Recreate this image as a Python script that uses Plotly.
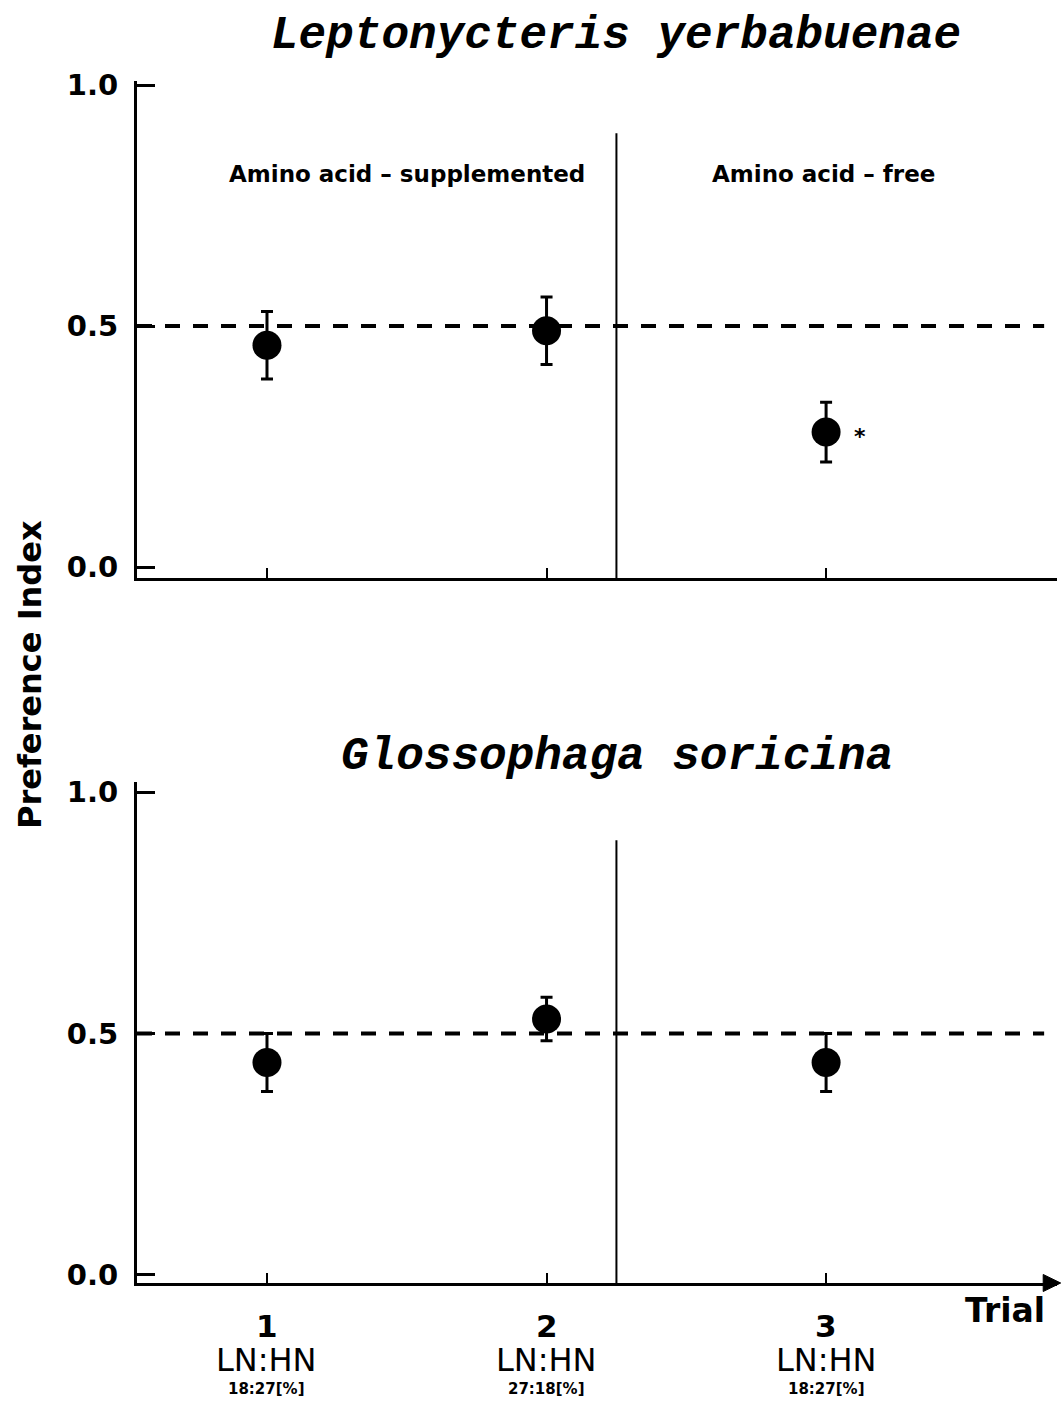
import plotly.graph_objects as go

# ---- data ----
trials = [1, 2, 3]
ly_mean = [0.46, 0.49, 0.28]   # Leptonycteris yerbabuenae
ly_err = [0.07, 0.07, 0.062]
gs_mean = [0.44, 0.53, 0.44]   # Glossophaga soricina
gs_err = [0.06, 0.045, 0.06]
tick_num = ["1", "2", "3"]
tick_ratio = ["18:27[%]", "27:18[%]", "18:27[%]"]
y_ticks = [0.0, 0.5, 1.0]
y_ticktext = ["0.0", "0.5", "1.0"]
species = ["Leptonycteris yerbabuenae", "Glossophaga soricina"]
sections = ["Amino acid \u2013 supplemented", "Amino acid \u2013 free"]
section_x = [1.5, 2.99]
divider_x = 2.25

W, H = 1061, 1405
BOLD = "DejaVu Sans"
TITLE_FONT = dict(family="Liberation Mono", size=46, color="black",
                  style="italic", weight="bold")

fig = go.Figure()

def add_series(means, errs, xa, ya):
    fig.add_trace(go.Scatter(
        x=trials, y=means, mode="markers", xaxis=xa, yaxis=ya,
        marker=dict(color="black", size=29, symbol="circle"),
        error_y=dict(type="data", array=errs, visible=True, color="black",
                     thickness=3, width=6),
        showlegend=False, hoverinfo="skip"))

add_series(ly_mean, ly_err, "x", "y")
add_series(gs_mean, gs_err, "x2", "y2")

xrange = [0.535, 3.826]
top_range = [-0.0228, 1.0083]
bot_range = [-0.0166, 1.0207]

axis_common = dict(showline=True, linewidth=3, linecolor="black",
                   showgrid=False, zeroline=False, mirror=False)

ycommon = dict(axis_common, tickvals=y_ticks, ticktext=y_ticktext,
               ticks="inside", ticklen=18, tickwidth=2.5, tickcolor="black",
               tickfont=dict(family=BOLD, size=29, color="black", weight="bold"),
               ticklabelstandoff=10, automargin=False)
xcommon = dict(axis_common, tickvals=trials, ticks="inside", ticklen=10,
               tickwidth=2, tickcolor="black", showticklabels=False,
               range=xrange, automargin=False)

fig.update_layout(
    width=W, height=H,
    margin=dict(l=137, r=4, t=0, b=0, autoexpand=False),
    paper_bgcolor="white", plot_bgcolor="white",
    xaxis=dict(xcommon, domain=[0, 1], anchor="y"),
    yaxis=dict(ycommon, domain=[1 - 578 / H, 1 - 81 / H], range=top_range, anchor="x"),
    xaxis2=dict(xcommon, domain=[0, 1], anchor="y2"),
    yaxis2=dict(ycommon, domain=[1 - 1283 / H, 1 - 782 / H], range=bot_range, anchor="x2"),
)

shapes = []
for xr, yr, rng in [("x", "y", top_range), ("x2", "y2", bot_range)]:
    shapes.append(dict(type="line", xref=xr, yref=yr, x0=xrange[0], x1=3.78,
                       y0=0.5, y1=0.5, line=dict(color="black", width=4, dash="15px,13px")))
    shapes.append(dict(type="line", xref=xr, yref=yr, x0=divider_x, x1=divider_x,
                       y0=rng[0], y1=0.9, line=dict(color="black", width=2)))
# arrow head at the end of the bottom x axis
shapes.append(dict(type="path", xref="x2 domain", yref="y2 domain",
                   path="M 0.985,0.017 L 1.004,0 L 0.985,-0.017 Z",
                   fillcolor="black", line=dict(color="black", width=1)))
fig.update_layout(shapes=shapes)

ann = []
# species titles
ann.append(dict(text=species[0], xref="paper", yref="paper", x=(616 - 137) / 920,
                y=1 - 36 / H, showarrow=False, xanchor="center", yanchor="middle",
                font=TITLE_FONT))
ann.append(dict(text=species[1], xref="paper", yref="paper", x=(617 - 137) / 920,
                y=1 - 757 / H, showarrow=False, xanchor="center", yanchor="middle",
                font=TITLE_FONT))
# section labels
for sx, stext in zip(section_x, sections):
    ann.append(dict(text=stext, xref="x", yref="y", x=sx, y=0.815, showarrow=False,
                    font=dict(family=BOLD, size=23, color="black", weight="bold")))
# significance asterisk
ann.append(dict(text="*", xref="x", yref="y", x=trials[2], y=ly_mean[2], xshift=34,
                yshift=-4, showarrow=False,
                font=dict(family=BOLD, size=22, color="black", weight="bold")))
# y axis title
ann.append(dict(text="Preference Index", xref="paper", yref="paper",
                x=(30 - 137) / 920, y=1 - 675 / H, textangle=-90, showarrow=False,
                xanchor="center", yanchor="middle",
                font=dict(family=BOLD, size=32, color="black", weight="bold")))
# x axis title
ann.append(dict(text="Trial", xref="paper", yref="paper", x=(1005 - 137) / 920,
                y=1 - 1310 / H, showarrow=False, xanchor="center", yanchor="middle",
                font=dict(family=BOLD, size=33, color="black", weight="bold")))
# x tick labels (3 lines)
for t, num, ratio in zip(trials, tick_num, tick_ratio):
    ann.append(dict(text=num, xref="x2", yref="paper", x=t, y=1 - 1326 / H,
                    showarrow=False, yanchor="middle",
                    font=dict(family=BOLD, size=31, color="black", weight="bold")))
    ann.append(dict(text="LN:HN", xref="x2", yref="paper", x=t, y=1 - 1360 / H,
                    showarrow=False, yanchor="middle",
                    font=dict(family="DejaVu Sans", size=32, color="black")))
    ann.append(dict(text=ratio, xref="x2", yref="paper", x=t, y=1 - 1389 / H,
                    showarrow=False, yanchor="middle",
                    font=dict(family=BOLD, size=15, color="black", weight="bold")))
fig.update_layout(annotations=ann)

fig.write_html("out.html")
